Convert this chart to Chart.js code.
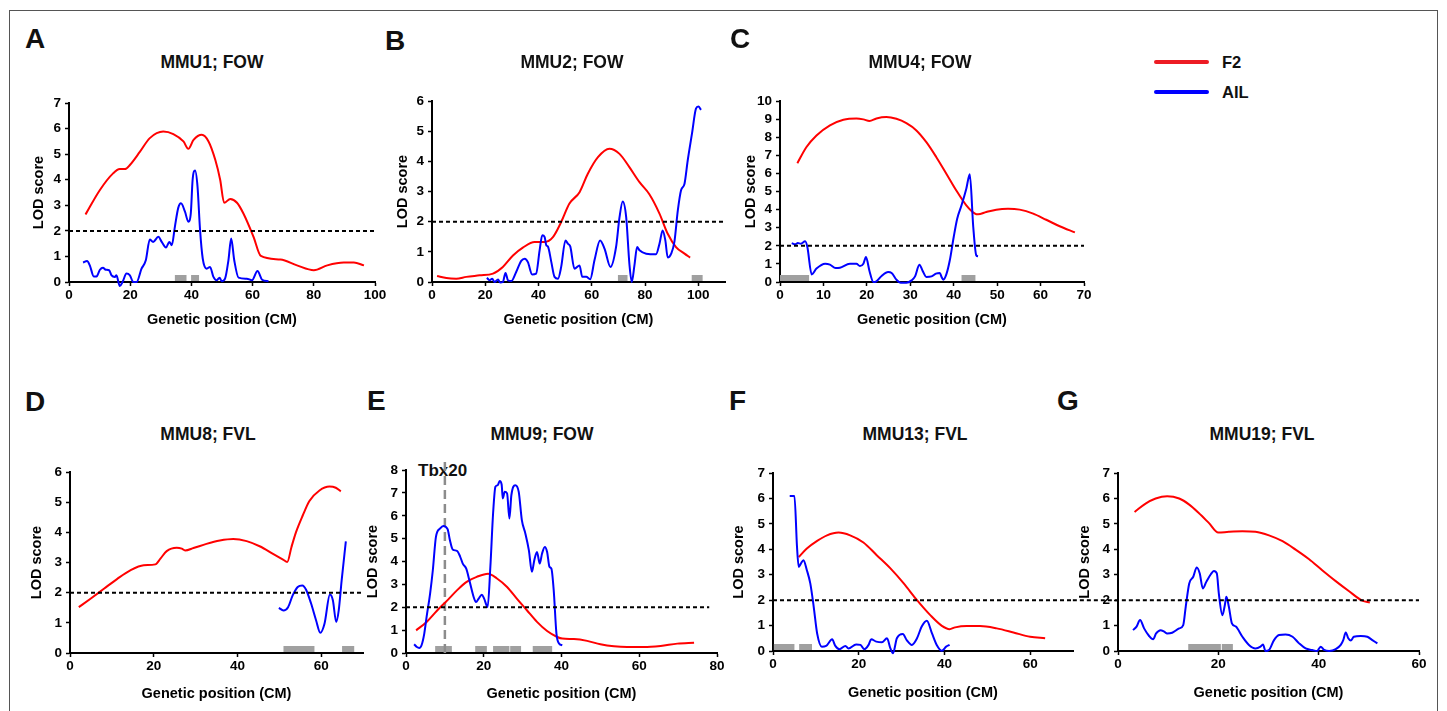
<!DOCTYPE html>
<html lang="en">
<head>
<meta charset="UTF-8">
<title>LOD score profiles</title>
<script src="https://cdn.jsdelivr.net/npm/chart.js"></script>
<style>
  body { margin: 0; background: #fff; font-family: 'Liberation Sans', Arial, sans-serif; color: #111; }
  #fig { position: relative; width: 1447px; height: 711px; overflow: hidden; }
  .frame { position: absolute; left: 9px; top: 10px; width: 1427px; height: 740px; border: 1px solid #555; }
  canvas { position: absolute; }
  .letter { position: absolute; font-size: 28px; line-height: 28px; font-weight: bold; }
  .title { position: absolute; width: 240px; text-align: center; font-size: 17.5px; line-height: 17.5px; font-weight: bold; }
  .key { position: absolute; width: 55px; height: 4px; border-radius: 2px; }
  .keytxt { position: absolute; font-size: 16.5px; line-height: 16.5px; font-weight: bold; }
  .gene { position: absolute; font-size: 17px; line-height: 17px; font-weight: bold; }
</style>
</head>
<body>
<div id="fig">
  <div class="frame"></div>
  <div class="key" style="left:1154px; top:60px; background:#ed1c24"></div>
  <div class="keytxt" style="left:1222px; top:54px">F2</div>
  <div class="key" style="left:1154px; top:90px; background:#0000ff"></div>
  <div class="keytxt" style="left:1222px; top:84px">AIL</div>
  <div class="gene" style="left:418px; top:462px">Tbx20</div>
</div>

<script>
// LOD threshold and marker position
const LOD_THRESHOLD = 2;
const TBX20_POS = 10;

// MMU1; FOW
const f2_mmu1 = [[5.4,2.64],[10.1,3.6],[14.4,4.25],[16.6,4.42],[18.3,4.42],[19.9,4.58],[23.2,5.1],[26.4,5.63],[30.8,5.89],[34.1,5.79],[37.4,5.5],[39,5.21],[40.7,5.56],[43.4,5.76],[45.6,5.5],[47.8,4.78],[49.4,4.0],[50.7,3.1],[52.7,3.25],[54.9,3.1],[57,2.68],[60.3,1.77],[62.7,1.02],[69.1,0.88],[74.5,0.65],[80,0.46],[84.4,0.65],[89.8,0.76],[93.1,0.76],[96.4,0.65]];
const ail_mmu1 = [[4.6,0.76],[5.9,0.82],[6.8,0.65],[8.1,0.22],[9,0.22],[10.1,0.48],[11.1,0.56],[12,0.48],[13.1,0.46],[13.9,0.26],[15,0.2],[15.5,0.26],[16.6,-0.16],[17.5,0],[18.8,0.33],[19.9,0.26],[21,0],[22.1,0],[23.7,0.52],[25.1,0.85],[26.4,1.66],[27.5,1.57],[29.2,1.77],[30.3,1.57],[31.7,1.35],[32.8,1.57],[33.6,1.44],[34.6,2.16],[35.7,2.9],[36.6,3.08],[37.9,2.75],[39,2.36],[39.8,2.68],[40.4,4.0],[41.2,4.36],[42,3.73],[42.8,2.09],[43.7,0.92],[45,0.52],[46.1,0.59],[47.2,0.2],[48.3,0.07],[49.2,0.17],[49.9,0.03],[51,0.13],[52.1,0.85],[53,1.7],[54,0.85],[55.4,0.17],[58.1,0.13],[59.8,0.07],[61.6,0.43],[63.1,0.09],[65.2,0.03]];
const ci_mmu1 = [[34.6,38.4],[39.9,42.5]];

// MMU2; FOW
const f2_mmu2 = [[1.9,0.2],[5.4,0.13],[9.1,0.11],[12.9,0.17],[17.9,0.22],[22.9,0.28],[26.6,0.5],[30.4,0.88],[34.1,1.14],[38.5,1.33],[42.3,1.33],[45.4,1.49],[48.5,1.99],[51.6,2.6],[55.4,2.98],[58.5,3.59],[62.3,4.14],[66.6,4.42],[70.4,4.25],[74.1,3.81],[77.9,3.31],[81.6,2.91],[85.4,2.27],[88.5,1.6],[91.6,1.16],[94.8,0.94],[96.9,0.81]];
const ail_mmu2 = [[20.6,0.14],[21.6,0.06],[22.6,0.11],[23.5,0],[24.8,0.08],[25.6,-0.02],[26.6,0],[27.6,0.3],[28.5,0.06],[29.8,0.03],[31.6,0.33],[33.5,0.7],[34.8,0.77],[36,0.66],[37.6,0.25],[39.1,0.28],[40.4,1.05],[41.4,1.55],[42.3,1.49],[42.9,1.22],[43.5,1.18],[44.8,0.66],[46,0.17],[47.3,0.11],[48.5,0.5],[50.1,1.38],[51,1.27],[51.9,1.18],[53.5,0.44],[55.4,0.55],[56.4,0.17],[57.9,0.17],[59.4,0.09],[61,0.72],[63.1,1.38],[64.8,1.1],[67,0.5],[69.1,1.16],[70.4,2.15],[71.6,2.67],[72.9,2.15],[74.1,0.61],[75,0],[76,0.55],[77,1.16],[77.9,1.05],[80.4,0.94],[84.1,0.92],[85.4,1.27],[86.6,1.71],[87.6,1.38],[88.5,0.81],[89.8,0.94],[91,1.33],[92.3,2.38],[93.5,3.04],[94.8,3.26],[96,4.03],[97.6,4.92],[99.1,5.75],[100,5.82],[101,5.71]];
const ci_mmu2 = [[69.8,73.4],[97.5,101.6]];

// MMU4; FOW
const f2_mmu4 = [[4,6.57],[6.1,7.46],[8.4,8.1],[11.5,8.66],[14.6,8.97],[17.6,9.04],[19.2,8.99],[20.6,8.9],[22.2,9.04],[24.5,9.12],[26.8,9.02],[29.1,8.78],[31.4,8.38],[33.7,7.73],[36,6.9],[38.3,5.99],[40.6,5.06],[42.9,4.24],[44.9,3.78],[45.6,3.74],[47.5,3.87],[49.8,4.0],[52.5,4.05],[55.2,4.0],[58.3,3.78],[61.3,3.44],[64.4,3.08],[67.9,2.74]];
const ail_mmu4 = [[2.7,2.15],[3.5,2.08],[4.1,2.15],[4.8,2.12],[5.8,2.25],[6.3,1.93],[7.3,0.42],[8.4,0.74],[10.4,1.01],[11.5,0.96],[12.8,0.77],[13.8,0.79],[16.1,1.01],[17.6,1.01],[18.4,0.88],[19.2,1.01],[19.8,1.38],[20.6,0.61],[21.5,0],[22.2,0.04],[23.4,0.33],[24.9,0.55],[25.7,0.5],[26.8,0.13],[27.8,-0.04],[29.1,-0.04],[30.3,0.09],[31.1,0.31],[32.1,0.96],[32.8,0.64],[33.7,0.28],[34.9,0.31],[35.9,0.46],[36.8,0.5],[37.2,0.28],[37.6,0.13],[38.3,0.42],[39.1,1.2],[40,2.49],[40.8,3.5],[41.8,4.24],[42.9,5.16],[43.7,5.95],[44.5,3.04],[45.2,1.47],[45.6,1.42]];
const ci_mmu4 = [[0,6.7],[41.8,45.0]];

// MMU8; FVL
const f2_mmu8 = [[2.1,1.52],[4.9,1.8],[8.1,2.13],[11.3,2.46],[14.4,2.74],[17.6,2.91],[20.4,2.94],[21.6,3.13],[23.1,3.38],[25.5,3.49],[26.7,3.46],[27.5,3.4],[29.5,3.48],[32.6,3.62],[35.8,3.73],[39,3.78],[42.2,3.71],[45.3,3.54],[48.5,3.29],[50.9,3.1],[51.9,3.02],[52.9,3.51],[54,4.01],[55.6,4.56],[57.2,5.04],[59.6,5.39],[62,5.52],[63.5,5.48],[64.7,5.36]];
const ail_mmu8 = [[49.9,1.5],[51,1.41],[52.1,1.52],[53.2,1.91],[54.4,2.19],[55.5,2.24],[56.4,2.1],[57.6,1.64],[58.8,1.08],[59.8,0.67],[60.8,0.97],[62.1,1.94],[62.8,1.75],[63.6,1.03],[64.2,1.41],[64.9,2.41],[65.9,3.7]];
const ci_mmu8 = [[51.0,58.4],[65.0,67.9]];

// MMU9; FOW
const f2_mmu9 = [[2.6,0.99],[5.3,1.36],[7.9,1.84],[10.5,2.28],[13.1,2.74],[15.6,3.11],[18.2,3.33],[21.1,3.47],[23.4,3.26],[26,2.89],[28.5,2.38],[31.1,1.87],[33.7,1.36],[36.3,0.96],[38.9,0.7],[40.2,0.63],[43.2,0.61],[46.6,0.53],[50,0.38],[53.5,0.29],[56.9,0.26],[61.2,0.26],[65.5,0.31],[69.8,0.41],[74.1,0.45]];
const ail_mmu9 = [[2.1,0.38],[2.8,0.26],[3.4,0.22],[4,0.34],[4.7,0.85],[5.3,1.58],[6.2,2.6],[6.9,3.62],[7.7,5.08],[8.8,5.45],[9.6,5.56],[10.7,5.42],[11.3,4.93],[12,4.53],[13.1,4.47],[13.9,4.23],[14.6,3.91],[15.5,3.69],[16.3,3.18],[17.4,2.45],[18,2.23],[18.7,2.38],[19.5,2.55],[20.1,2.38],[21,2.01],[21.7,3.77],[22.4,6.1],[23,7.27],[23.6,7.34],[24.1,7.52],[24.6,7.37],[24.9,6.76],[25.4,7.05],[26,6.98],[26.6,5.88],[27.1,6.9],[28.1,7.34],[29,7.05],[29.8,5.81],[30.7,5.23],[31.6,4.5],[32.4,3.55],[33,4.06],[33.7,4.42],[34.4,3.91],[35,4.35],[35.7,4.64],[36.3,4.42],[36.9,3.77],[37.4,3.69],[38,2.74],[38.7,0.85],[39.4,0.41],[40.2,0.34]];
const ci_mmu9 = [[7.5,11.8],[17.8,20.8],[22.4,26.6],[26.8,29.6],[32.6,37.6]];

// MMU13; FVL
const f2_mmu13 = [[6,3.7],[7.9,4.03],[10.3,4.33],[12.6,4.55],[15.3,4.66],[18,4.55],[21.1,4.27],[24.2,3.77],[27.4,3.25],[30.5,2.66],[33.6,2.0],[36.7,1.41],[39.4,0.99],[41.2,0.86],[42.5,0.93],[45.2,0.98],[48.3,0.98],[52.2,0.89],[56.1,0.73],[60,0.56],[63.5,0.5]];
const ail_mmu13 = [[3.9,6.1],[5,6.1],[5.6,4.1],[6,3.31],[6.5,3.44],[7.1,3.57],[7.9,3.18],[8.7,2.66],[9.5,1.74],[10.3,0.69],[11.4,0.17],[12.4,0.2],[13.8,0.46],[14.5,0.21],[15.5,0.07],[16.9,0.2],[17.6,0.1],[19.4,0.26],[20.4,0.24],[21.3,0.07],[22.3,0.24],[22.9,0.46],[24.1,0.37],[25.4,0.34],[26.6,0.5],[27.4,0.1],[28,-0.09],[28.9,0.5],[30.3,0.67],[31.2,0.43],[32.4,0.24],[33.6,0.5],[34.7,0.96],[35.9,1.19],[37.1,0.69],[38.2,0.24],[39.4,0.01],[40.4,0.17],[41.2,0.24]];
const ci_mmu13 = [[0.2,5.0],[6.1,9.1]];

// MMU19; FVL
const f2_mmu19 = [[3.3,5.47],[5.5,5.8],[7.5,6.0],[9.8,6.09],[12.2,6.0],[14.2,5.76],[16.1,5.43],[18.1,5.04],[20,4.66],[22.1,4.69],[24.8,4.71],[27.4,4.69],[30.1,4.55],[32.8,4.32],[35.4,3.99],[38.1,3.61],[40.7,3.18],[43.4,2.75],[46,2.36],[48.7,1.98],[50.2,1.91]];
const ail_mmu19 = [[3,0.82],[3.7,0.96],[4.4,1.22],[5.2,0.89],[6.2,0.59],[7,0.46],[7.6,0.69],[8.5,0.82],[9.2,0.76],[9.8,0.69],[10.8,0.72],[12.2,0.89],[13,1.02],[13.5,1.74],[14.2,2.66],[15,2.92],[15.7,3.29],[16.3,3.05],[16.9,2.46],[17.6,2.72],[18.5,3.02],[19.1,3.15],[19.7,3.05],[20.1,2.26],[20.8,1.41],[21.3,1.81],[21.6,2.13],[22.1,1.74],[22.7,1.09],[23.5,0.96],[24.8,0.56],[26.1,0.24],[27.4,0.1],[28.4,0.17],[28.9,0.26],[29.4,0],[30.1,0.04],[31.1,0.43],[32.1,0.63],[33.4,0.65],[34.8,0.56],[36.1,0.3],[37.4,0.1],[38.7,0.04],[39.7,0],[40.4,0.17],[41.1,0.04],[42.1,0],[43.4,0.07],[44.4,0.24],[44.9,0.43],[45.4,0.73],[45.9,0.5],[46.4,0.41],[47,0.56],[48.4,0.59],[49.7,0.56],[50.7,0.43],[51.7,0.3]];
const ci_mmu19 = [[14.0,20.5],[20.7,22.9]];

// one entry per panel: box = plot area [left, top, right, bottom] on the page
const panels = [
  { tag: 'A', title: 'MMU1; FOW',  f2: f2_mmu1,  ail: ail_mmu1,  ci: ci_mmu1,  xMax: 100, xStep: 20, yMax: 7,  thr: [0, 100],  box: [69, 103, 375, 282],   letter: [25, 25],   titleX: 212,  titleY: 63,  yOff: 30.3, xOff: 38.3 },
  { tag: 'B', title: 'MMU2; FOW',  f2: f2_mmu2,  ail: ail_mmu2,  ci: ci_mmu2,  xMax: 110, xStep: 20, yMax: 6,  thr: [0, 110],  box: [432, 101, 725, 282],  letter: [385, 27],  titleX: 572,  titleY: 63,  yOff: 29.4, xOff: 38.3 },
  { tag: 'C', title: 'MMU4; FOW',  f2: f2_mmu4,  ail: ail_mmu4,  ci: ci_mmu4,  xMax: 70,  xStep: 10, yMax: 10, thr: [0, 70],   box: [780, 101, 1084, 282], letter: [730, 25],  titleX: 920,  titleY: 63,  yOff: 29.3, xOff: 38.3 },
  { tag: 'D', title: 'MMU8; FVL',  f2: f2_mmu8,  ail: ail_mmu8,  ci: ci_mmu8,  xMax: 70,  xStep: 20, yMax: 6,  thr: [0, 70],   box: [70, 472, 363, 653],   letter: [25, 388],  titleX: 208,  titleY: 435, yOff: 32.7, xOff: 40.6 },
  { tag: 'E', title: 'MMU9; FOW',  f2: f2_mmu9,  ail: ail_mmu9,  ci: ci_mmu9,  xMax: 80,  xStep: 20, yMax: 8,  thr: [0, 78],   box: [406, 470, 717, 653],  letter: [367, 387], titleX: 542,  titleY: 435, yOff: 33,   xOff: 40.6, gene: true },
  { tag: 'F', title: 'MMU13; FVL', f2: f2_mmu13, ail: ail_mmu13, ci: ci_mmu13, xMax: 70,  xStep: 20, yMax: 7,  thr: [0, 70],   box: [773, 473, 1073, 651], letter: [729, 387], titleX: 915,  titleY: 435, yOff: 34.4, xOff: 42.3 },
  { tag: 'G', title: 'MMU19; FVL', f2: f2_mmu19, ail: ail_mmu19, ci: ci_mmu19, xMax: 60,  xStep: 20, yMax: 7,  thr: [-9, 60],  box: [1118, 473, 1419, 651], letter: [1057, 387], titleX: 1262, titleY: 435, yOff: 33.3, xOff: 42.3 }
];

const Y_W = 70, X_H = 52, PAD_T = 12, PAD_R = 20;
const TITLE_FS = 14.5, TITLE_LH = TITLE_FS * 1.2;
const TICK_FONT = { size: 13.5, weight: 'bold' };

Chart.defaults.font.family = "'Liberation Sans', Arial, sans-serif";
Chart.defaults.color = '#000';

// grey interval bars along the x axis
const ciBars = {
  id: 'ciBars',
  beforeDatasetsDraw(chart, args, opts) {
    const { ctx, chartArea, scales } = chart;
    ctx.save();
    ctx.fillStyle = '#a0a0a0';
    (opts.bars || []).forEach(([a, b]) => {
      const x1 = scales.x.getPixelForValue(a);
      const x2 = scales.x.getPixelForValue(b);
      ctx.fillRect(x1, chartArea.bottom - 7, x2 - x1, 6);
    });
    ctx.restore();
  }
};

const toXY = arr => arr.map(([x, y]) => ({ x, y }));
const fig = document.getElementById('fig');

function addText(cls, txt, left, top) {
  const d = document.createElement('div');
  d.className = cls;
  d.textContent = txt;
  d.style.left = left + 'px';
  d.style.top = top + 'px';
  fig.appendChild(d);
}

// evenly spaced ticks from 0 up to max, never adding max itself
function stepTicks(step) {
  return s => {
    const out = [];
    for (let v = 0; v <= s.max + 1e-9; v += step) out.push({ value: v });
    s.ticks = out;
  };
}

panels.forEach(p => {
  const [L, T, R, B] = p.box;
  addText('letter', p.tag, p.letter[0], p.letter[1]);
  addText('title', p.title, p.titleX - 120, p.titleY - 9);

  const cv = document.createElement('canvas');
  cv.width = R - L + Y_W + PAD_R;
  cv.height = B - T + PAD_T + X_H;
  cv.style.left = (L - Y_W) + 'px';
  cv.style.top = (T - PAD_T) + 'px';
  fig.appendChild(cv);

  const datasets = [
    { data: [{ x: p.thr[0], y: LOD_THRESHOLD }, { x: p.thr[1], y: LOD_THRESHOLD }],
      borderColor: '#000', borderWidth: 2, borderDash: [4, 3], tension: 0, clip: false },
    { label: 'AIL', data: toXY(p.ail), borderColor: '#0000ff', borderWidth: 2,
      cubicInterpolationMode: 'monotone', clip: 6 },
    { label: 'F2', data: toXY(p.f2), borderColor: '#ff0000', borderWidth: 2,
      cubicInterpolationMode: 'monotone', clip: 6 }
  ];
  if (p.gene) {
    datasets.push({ data: [{ x: TBX20_POS, y: 0 }, { x: TBX20_POS, y: 8.9 }],
      borderColor: '#8c8c8c', borderWidth: 2.5, borderDash: [9, 5], tension: 0, clip: false });
  }

  new Chart(cv, {
    type: 'line',
    data: { datasets },
    plugins: [ciBars],
    options: {
      responsive: false,
      animation: false,
      events: [],
      elements: { point: { radius: 0 } },
      layout: { padding: { top: PAD_T, right: PAD_R, left: 0, bottom: 0 } },
      plugins: {
        legend: { display: false },
        tooltip: { enabled: false },
        ciBars: { bars: p.ci }
      },
      scales: {
        x: {
          type: 'linear', min: 0, max: p.xMax,
          afterBuildTicks: stepTicks(p.xStep),
          afterFit: s => { s.height = X_H; },
          ticks: { padding: 1, maxRotation: 0, autoSkip: false, font: TICK_FONT },
          grid: { drawOnChartArea: false, tickLength: 4, tickColor: '#000', tickWidth: 1.5 },
          border: { color: '#000', width: 2 },
          title: { display: true, text: 'Genetic position (CM)',
                   font: { size: TITLE_FS, weight: 'bold' },
                   padding: { top: 0, bottom: X_H - p.xOff - TITLE_LH / 2 } }
        },
        y: {
          min: 0, max: p.yMax,
          afterBuildTicks: stepTicks(1),
          afterFit: s => { s.width = Y_W; },
          ticks: { padding: 4, autoSkip: false, font: TICK_FONT },
          grid: { drawOnChartArea: false, tickLength: 4, tickColor: '#000', tickWidth: 1.5 },
          border: { color: '#000', width: 2 },
          title: { display: true, text: 'LOD score',
                   font: { size: TITLE_FS, weight: 'bold' },
                   padding: { top: Y_W - p.yOff - TITLE_LH / 2, bottom: 0 } }
        }
      }
    }
  });
});
</script>
</body>
</html>
